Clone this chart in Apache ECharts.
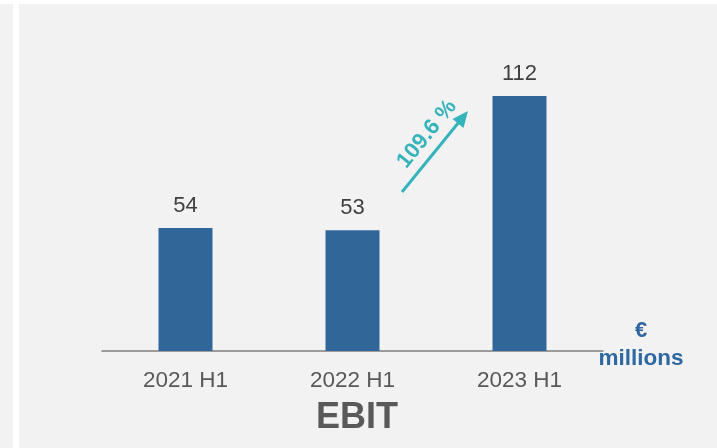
<!DOCTYPE html>
<html>
<head>
<meta charset="utf-8">
<script src="https://cdn.jsdelivr.net/npm/echarts@6/dist/echarts.min.js"></script>
<style>
  html, body { margin: 0; padding: 0; background: #ffffff; }
  #frame { position: absolute; left: 19px; top: 4px; width: 698px; height: 444px; background: #f2f2f2; }
  #strip { position: absolute; left: 0; top: 4px; width: 13px; height: 444px; background: #f2f2f2; }
  #chart { position: absolute; left: 0; top: 0; width: 717px; height: 448px; }
</style>
</head>
<body>
<div id="strip"></div>
<div id="frame"></div>
<div id="chart"></div>
<script>
const categories = ['2021 H1', '2022 H1', '2023 H1'];
const ebitValues = [54, 53, 112];
const growthLabel = '109.6 %';

const chart = echarts.init(document.getElementById('chart'));
const font = '"Liberation Sans", Arial, sans-serif';
const teal = '#35b3bb';

const option = {
  backgroundColor: 'transparent',
  animation: false,
  grid: { left: 102, right: 114, top: 96, bottom: 97 },
  xAxis: {
    type: 'category',
    data: categories,
    axisLine: { lineStyle: { color: '#7f7f7f', width: 1.5 } },
    axisTick: { show: false },
    axisLabel: { color: '#595959', fontSize: 22.5, fontFamily: font, margin: 18 }
  },
  yAxis: {
    type: 'value',
    min: 0,
    max: 112,
    show: false
  },
  series: [{
    type: 'bar',
    data: ebitValues,
    barWidth: 54,
    itemStyle: { color: '#316699' },
    label: {
      show: true,
      position: 'top',
      distance: 11,
      color: '#404040',
      fontSize: 22,
      fontFamily: font
    }
  }],
  graphic: [
    { type: 'text', x: 357, y: 418, style: { text: 'EBIT', fill: '#595959', font: 'bold 36px ' + font, textAlign: 'center', textVerticalAlign: 'middle' } },
    { type: 'text', x: 641, y: 331, style: { text: '€', fill: '#2f67a0', font: 'bold 22px ' + font, textAlign: 'center', textVerticalAlign: 'middle' } },
    { type: 'text', x: 641, y: 359, style: { text: 'millions', fill: '#2f67a0', font: 'bold 22.5px ' + font, textAlign: 'center', textVerticalAlign: 'middle' } },
    { type: 'line', shape: { x1: 402, y1: 192, x2: 459, y2: 122 }, style: { stroke: teal, lineWidth: 3 } },
    { type: 'polygon', shape: { points: [[468, 111], [463.5, 128], [452.5, 119]] }, style: { fill: teal } },
    { type: 'text', x: 427, y: 134, rotation: 0.89, style: { text: growthLabel, fill: teal, font: 'bold 22px ' + font, textAlign: 'center', textVerticalAlign: 'middle' } }
  ]
};
chart.setOption(option);
</script>
</body>
</html>
